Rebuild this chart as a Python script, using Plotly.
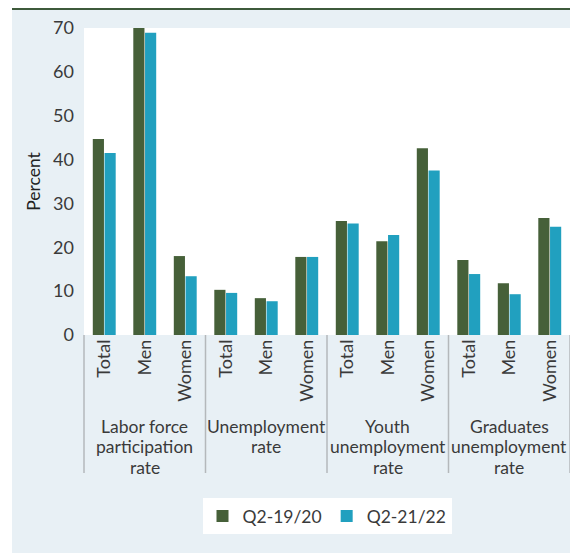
import plotly.graph_objects as go

groups = ["Labor force<br>participation<br>rate", "Unemployment<br>rate",
          "Youth<br>unemployment<br>rate", "Graduates<br>unemployment<br>rate"]
subcats = ["Total", "Men", "Women"]
series_names = ["Q2-19/20", "Q2-21/22"]
q2_1920 = [44.7, 70.0, 18.0, 10.3, 8.4, 17.8, 26.0, 21.4, 42.6, 17.1, 11.8, 26.7]
q2_2122 = [41.5, 68.9, 13.4, 9.6, 7.7, 17.8, 25.4, 22.8, 37.5, 13.9, 9.3, 24.7]

GREEN = "#466039"
TEAL = "#21a0bf"
PANEL = "#e8f0f5"
TXT = "#3a3a3a"
FONT = "Lato, Liberation Sans, sans-serif"
FS = 18

# the page body adds an 8px margin, so figure coords = page coords - 8
OFF = 8
W, H = 570, 546
L, R, T, B = 76, 8, 20, 219
pw, ph = W - L - R, H - T - B

def px_x(p):  # p in page pixels
    return (p - OFF - L) / pw

def px_y(p):  # p in page pixels
    return (H - B - (p - OFF)) / ph

xs = list(range(len(groups) * len(subcats)))
ticktext = [s for g in groups for s in subcats]

fig = go.Figure()
fig.add_trace(go.Bar(x=xs, y=q2_1920, name=series_names[0], marker=dict(color=GREEN, line=dict(width=0))))
fig.add_trace(go.Bar(x=xs, y=q2_2122, name=series_names[1], marker=dict(color=TEAL, line=dict(width=0))))

shapes = []
# white strips outside the panel
shapes.append(dict(type="rect", xref="paper", yref="paper", x0=px_x(0), x1=px_x(12), y0=px_y(H + OFF), y1=px_y(0),
                   fillcolor="white", line=dict(width=0), layer="below"))
shapes.append(dict(type="rect", xref="paper", yref="paper", x0=px_x(0), x1=px_x(W + OFF), y0=px_y(H + OFF), y1=px_y(553),
                   fillcolor="white", line=dict(width=0), layer="below"))
# top rule
shapes.append(dict(type="line", xref="paper", yref="paper", x0=px_x(12), x1=px_x(W + OFF), y0=px_y(9), y1=px_y(9),
                   line=dict(color="#3e5a3b", width=2)))
# group dividers
ng = len(groups)
for i in range(ng + 1):
    shapes.append(dict(type="line", xref="paper", yref="paper", x0=i / ng, x1=i / ng,
                       y0=0, y1=px_y(473), line=dict(color="#b4b8bb", width=1.5)))

annotations = []
line_centers = [426, 446.5, 467]  # page pixels
for gi, g in enumerate(groups):
    for li, line in enumerate(g.split("<br>")):
        annotations.append(dict(xref="x", yref="paper", x=gi * 3 + 1, y=px_y(line_centers[li]), yanchor="middle",
                                text=line, showarrow=False,
                                font=dict(family=FONT, size=17.5, color=TXT)))

fig.update_layout(
    width=W, height=H,
    margin=dict(l=L, r=R, t=T, b=B, pad=0, autoexpand=False),
    paper_bgcolor=PANEL, plot_bgcolor="white",
    barmode="group", bargap=0.42, bargroupgap=0.05,
    font=dict(family=FONT, size=FS, color=TXT),
    showlegend=True,
    legend=dict(orientation="h", x=0.5, xanchor="center", y=px_y(498), yanchor="top",
                bgcolor="white", font=dict(family=FONT, size=17.5, color=TXT),
                itemsizing="constant", traceorder="normal"),
    shapes=shapes, annotations=annotations,
)
fig.update_xaxes(range=[-0.5, len(xs) - 0.5], tickmode="array", tickvals=xs, ticktext=ticktext,
                 tickangle=-90, showgrid=False, zeroline=False, showline=False, ticks="",
                 automargin=False, tickfont=dict(family=FONT, size=FS, color=TXT))
fig.update_yaxes(range=[0, 70], dtick=10, tick0=0, showgrid=False, zeroline=False, showline=False,
                 ticks="", ticklabelstandoff=9, automargin=False,
                 tickfont=dict(family=FONT, size=FS, color=TXT),
                 title=dict(text="Percent", font=dict(family=FONT, size=17.5, color="#222"), standoff=7))

fig.write_html("out.html")
